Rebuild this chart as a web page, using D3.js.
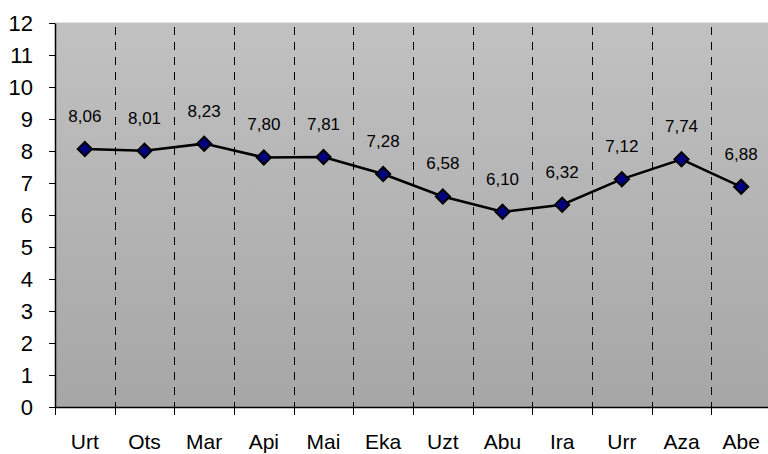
<!DOCTYPE html>
<html>
<head>
<meta charset="utf-8">
<script src="https://cdn.jsdelivr.net/npm/d3@7"></script>
<style>
  body { margin: 0; background: #fff; }
  svg { display: block; font-family: Arial, "Liberation Sans", sans-serif; }
</style>
</head>
<body>
<div id="chart"></div>
<script>
const months = ["Urt", "Ots", "Mar", "Api", "Mai", "Eka", "Uzt", "Abu", "Ira", "Urr", "Aza", "Abe"];
const values = [8.06, 8.01, 8.23, 7.80, 7.81, 7.28, 6.58, 6.10, 6.32, 7.12, 7.74, 6.88];
const yTicks = [0, 1, 2, 3, 4, 5, 6, 7, 8, 9, 10, 11, 12];

const width = 768, height = 454;
const plotLeft = 55, plotTop = 23, plotBottom = 407, plotRight = 771;
const fontStack = "Arial, 'Liberation Sans', sans-serif";

const svg = d3.select("#chart").append("svg")
    .attr("width", width)
    .attr("height", height);

const grad = svg.append("defs").append("linearGradient")
    .attr("id", "bg")
    .attr("x1", 0).attr("y1", 0).attr("x2", 0).attr("y2", 1);
grad.append("stop").attr("offset", "0%").attr("stop-color", "#c1c1c1");
grad.append("stop").attr("offset", "100%").attr("stop-color", "#a6a6a6");

const x = d3.scaleBand().domain(months).range([plotLeft, plotRight]);
const y = d3.scaleLinear().domain([0, 12]).range([plotBottom, plotTop]);

// plot area
svg.append("rect")
    .attr("x", plotLeft).attr("y", plotTop)
    .attr("width", plotRight - plotLeft).attr("height", plotBottom - plotTop)
    .attr("fill", "url(#bg)");
svg.append("line")
    .attr("x1", plotLeft).attr("x2", plotRight).attr("y1", plotTop - 0.5).attr("y2", plotTop - 0.5)
    .attr("stroke", "#e4e4e4");

// dashed separators between months
svg.append("g").selectAll("line")
    .data(months.slice(1))
    .join("line")
    .attr("x1", d => Math.round(x(d)) + 0.5)
    .attr("x2", d => Math.round(x(d)) + 0.5)
    .attr("y1", plotTop + 4).attr("y2", plotBottom)
    .attr("stroke", "#000")
    .attr("stroke-width", 1)
    .attr("stroke-dasharray", "8,7");

// axes
const yAxis = svg.append("g")
    .attr("transform", `translate(${plotLeft},0)`)
    .call(d3.axisLeft(y).tickValues(yTicks).tickSize(6).tickPadding(16).tickSizeOuter(0));
yAxis.selectAll("text")
    .style("font-size", "22px").style("font-family", fontStack).attr("fill", "#000");
yAxis.select(".domain").attr("stroke", "#000").attr("stroke-width", 1.5);

const xAxis = svg.append("g")
    .attr("transform", `translate(0,${plotBottom})`)
    .call(d3.axisBottom(x).tickSize(0).tickPadding(27).tickSizeOuter(0));
xAxis.selectAll("text")
    .style("font-size", "21px").style("font-family", fontStack).attr("fill", "#000");
xAxis.select(".domain").attr("stroke", "#000").attr("stroke-width", 1.5);

// x ticks at category boundaries
svg.append("g").selectAll("line")
    .data(months)
    .join("line")
    .attr("x1", d => Math.round(x(d)) + 0.5)
    .attr("x2", d => Math.round(x(d)) + 0.5)
    .attr("y1", plotBottom).attr("y2", plotBottom + 8)
    .attr("stroke", "#000");

const cx = d => x(d) + x.bandwidth() / 2;

// line
const line = d3.line()
    .x((d, i) => cx(months[i]))
    .y(d => y(d));
svg.append("path")
    .datum(values)
    .attr("d", line)
    .attr("fill", "none")
    .attr("stroke", "#000")
    .attr("stroke-width", 2.5);

// diamond markers
svg.append("g").selectAll("path")
    .data(values)
    .join("path")
    .attr("transform", (d, i) => `translate(${cx(months[i])},${y(d)}) rotate(45)`)
    .attr("d", d3.symbol().type(d3.symbolSquare).size(100))
    .attr("fill", "#000080")
    .attr("stroke", "#000")
    .attr("stroke-width", 2);

// value labels
svg.append("g").selectAll("text")
    .data(values)
    .join("text")
    .attr("x", (d, i) => cx(months[i]))
    .attr("y", d => y(d) - 27)
    .attr("text-anchor", "middle")
    .style("font-size", "17px")
    .style("font-family", fontStack)
    .attr("fill", "#000")
    .text(d => d.toFixed(2).replace(".", ","));
</script>
</body>
</html>
